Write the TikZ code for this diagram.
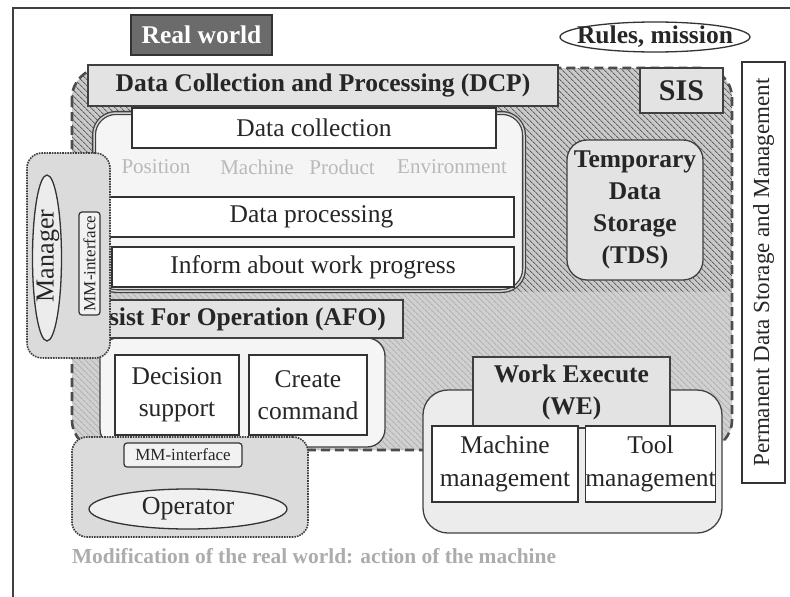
\documentclass[tikz,border=0pt]{standalone}
\usepackage{fontspec}
\setmainfont{Liberation Serif}
\usetikzlibrary{patterns,patterns.meta,shapes.geometric}
\newcommand\fsz[2]{\fontsize{#1}{#2}\selectfont}
\begin{document}
\begin{tikzpicture}[x=1pt,y=-1pt,
  every node/.style={inner sep=0pt,outer sep=0pt,text=black!85},
  wbox/.style={draw=black!80,line width=1.3pt,fill=white,font=\fsz{25.5}{32},align=center},
  gbox/.style={draw=black!75,line width=1.3pt,fill=gray!22,font=\fsz{25.5}{32}\bfseries,align=center},
  panel/.style={draw=black!75,line width=1.3pt,fill=gray!8,rounded corners=#1},
  spanel/.style={draw=black!75,line width=1.6pt,densely dotted,fill=gray!28,rounded corners=#1},
  oval/.style={ellipse,draw=black!80,line width=1.3pt},
  faint/.style={text=gray!55,font=\fsz{21}{24}},
]
\useasboundingbox (0,0) rectangle (790,597);
\fill[white] (0,0) rectangle (790,597);
% frame
\coordinate (ftl) at (13,8);
\coordinate (ftr) at (790,8);
\coordinate (fbl) at (13,597);
\draw[black!75,line width=2pt] (ftr) -- (ftl) -- (fbl);

% SIS hatched region
\coordinate (s1) at (72,68);
\coordinate (s2) at (732,450);
\fill[gray!42,rounded corners=30pt] (s1) rectangle (s2);
\fill[pattern={Lines[angle=-45,distance=4pt,line width=0.9pt]},pattern color=black!62,rounded corners=30pt] (s1) rectangle (s2);
\begin{scope}
  \clip[rounded corners=30pt] (s1) rectangle (s2);
  \fill[gray!34,opacity=0.68] (72,292) rectangle (732,450);
\end{scope}
\draw[black!70,line width=2.6pt,dash pattern=on 9pt off 5pt,rounded corners=30pt] (s1) rectangle (s2);

% top labels
\node[draw=black!80,line width=1.3pt,fill=black!58,minimum width=141,minimum height=40,
      text=white,font=\fsz{25.5}{30}\bfseries] (real) at (201.5,35) {Real world};
\node[oval,fill=white,minimum width=190,minimum height=30] (rules) at (655,37) {};
\node[font=\fsz{25.5}{30}\bfseries] (rulest) at (rules) {Rules, mission};

% DCP panel
\node[panel=22pt,draw=black!75,double=gray!35,double distance=1.5pt,minimum width=430,minimum height=178] (dcpp) at (309,202) {};
\node[gbox,minimum width=470,minimum height=41] (dcp) at (323,85.5) {Data Collection and Processing (DCP)};
\node[gbox,minimum width=83,minimum height=45,font=\fsz{30}{34}\bfseries] (sis) at (681.5,90.5) {SIS};
\node[wbox,minimum width=364,minimum height=40] (dcol) at (314,128) {Data collection};
\node[faint] (pos) at (156,167) {Position};
\node[faint] (mach) at (257,167) {Machine};
\node[faint] (prod) at (342,167) {Product};
\node[faint] (env) at (452,167) {Environment};
\node[wbox,minimum width=405,minimum height=40] (dproc) at (311.5,217) {Data processing};
\node[wbox,minimum width=402,minimum height=40] (inform) at (313,267) {Inform about work progress};

% TDS
\node[gbox,rounded corners=20pt,minimum width=136,minimum height=140] (tds) at (635,210) {Temporary\\Data\\Storage\\(TDS)};

% AFO
\node[panel=18pt,minimum width=285,minimum height=109] (afop) at (242.5,392.5) {};
\node[gbox,minimum width=303,minimum height=38] (afo) at (251.5,319) {};
\node[font=\fsz{25.5}{30}\bfseries,anchor=west] (afot) at (109,319) {sist For Operation (AFO)};
\node[wbox,minimum width=124,minimum height=80] (dec) at (177,395) {Decision\\support};
\node[wbox,minimum width=118,minimum height=80] (cre) at (308,395) {Create\\command};

% Manager
\node[spanel=15pt,minimum width=83,minimum height=205] (manp) at (68.5,255.5) {};
\node[oval,fill=gray!15,minimum width=29,minimum height=166] (mane) at (47,258) {};
\node[rotate=90,font=\fsz{26}{30}] (mant) at (48,256) {Manager};
\node[draw=black!80,line width=1.2pt,fill=gray!10,rounded corners=3pt,rotate=90,
      minimum width=103,minimum height=21,font=\fsz{17}{20}] (mmv) at (89.5,263.5) {MM-interface};

% Operator
\node[spanel=15pt,minimum width=236,minimum height=100] (opp) at (190,487) {};
\node[draw=black!80,line width=1.2pt,fill=gray!10,rounded corners=3pt,
      minimum width=118,minimum height=24,font=\fsz{17}{20}] (mmo) at (183,455) {MM-interface};
\node[oval,fill=gray!12,minimum width=198,minimum height=40] (ope) at (188,509) {};
\node[font=\fsz{26}{30}] (opt) at (ope) {Operator};

% WE
\node[panel=25pt,fill=gray!15,minimum width=299,minimum height=143] (wep) at (572.5,461.5) {};
\node[gbox,minimum width=197,minimum height=71] (we) at (571.5,392.5) {Work Execute\\(WE)};
\node[wbox,minimum width=146,minimum height=76,font=\fsz{25.5}{33}] (mm) at (505,464) {Machine\\management};
\node[wbox,minimum width=125,minimum height=76,font=\fsz{25.5}{33}] (tm) at (650.5,464) {Tool\\management};

% Permanent storage
\node[draw=black!80,line width=1.3pt,fill=white,rotate=90,minimum width=421,minimum height=43,
      font=\fsz{23}{26}] (perm) at (763.5,272.5) {Permanent Data Storage and Management};

% bottom text
\node[anchor=west,text=gray!65,font=\fsz{21.4}{25}\bfseries] (modif) at (72,556) {Modification of the real world: action of the machine};
\end{tikzpicture}
\end{document}
